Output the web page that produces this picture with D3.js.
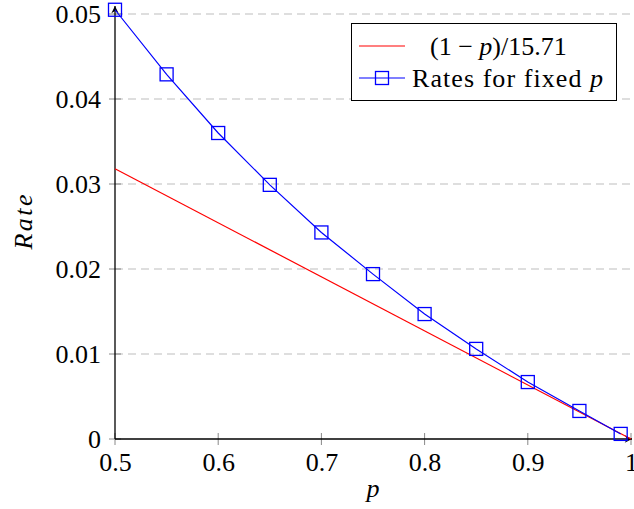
<!DOCTYPE html>
<html>
<head>
  <meta charset="utf-8">
  <title>Rate vs p</title>
  <script src="https://cdn.jsdelivr.net/npm/d3@7"></script>
  <style>
    body { margin: 0; background: #fff; }
    text { font-family: "Liberation Serif", "DejaVu Serif", serif; fill: #000; }
  </style>
</head>
<body>
  <script>
    // data
    const pValues = [0.5, 0.55, 0.6, 0.65, 0.7, 0.75, 0.8, 0.85, 0.9, 0.95, 0.99];
    const rates = [0.0505, 0.0429, 0.0360, 0.0299, 0.0243, 0.0194, 0.0147, 0.0106, 0.0067, 0.0033, 0.0006];
    // reference line (1-p)/15.71, end points
    const refP = [0.5, 1];
    const refRate = [0.0318, 0];
    const xTicks = [0.5, 0.6, 0.7, 0.8, 0.9, 1];
    const yTicks = [0, 0.01, 0.02, 0.03, 0.04, 0.05];

    const w = 634, h = 509;

    const svg = d3.select("body").append("svg")
      .attr("width", w)
      .attr("height", h);

    const x = d3.scaleLinear().domain([0.5, 1]).range([115, 631]);
    const y = d3.scaleLinear().domain([0, 0.05]).range([439, 14]);

    // grid lines
    svg.append("g").selectAll("line")
      .data(yTicks.filter(d => d > 0))
      .enter().append("line")
      .attr("x1", x(0.5)).attr("x2", x(1))
      .attr("y1", d => y(d)).attr("y2", d => y(d))
      .attr("stroke", "#bdbdbd")
      .attr("stroke-width", 1)
      .attr("stroke-dasharray", "8,5");

    // axes
    const xAxis = svg.append("g")
      .attr("transform", "translate(0," + y(0) + ")")
      .call(d3.axisBottom(x).tickValues(xTicks).tickSize(0).tickPadding(14)
        .tickFormat(d => d === 1 ? "1" : d3.format(".1f")(d)));
    xAxis.select(".domain").remove();
    xAxis.selectAll("text").attr("font-size", 26).attr("font-family", "Liberation Serif");

    const yAxis = svg.append("g")
      .attr("transform", "translate(" + x(0.5) + ",0)")
      .call(d3.axisLeft(y).tickValues(yTicks).tickSize(0).tickPadding(14)
        .tickFormat(d => d === 0 ? "0" : d3.format(".2f")(d)));
    yAxis.select(".domain").remove();
    yAxis.selectAll("text").attr("font-size", 26).attr("font-family", "Liberation Serif").attr("dy", "0.34em");

    // tick marks crossing the axis lines
    svg.append("g").selectAll("line")
      .data(xTicks)
      .enter().append("line")
      .attr("x1", d => x(d)).attr("x2", d => x(d))
      .attr("y1", y(0) - 6).attr("y2", y(0) + 6)
      .attr("stroke", "#888").attr("stroke-width", 1);
    svg.append("g").selectAll("line")
      .data(yTicks)
      .enter().append("line")
      .attr("x1", x(0.5) - 6).attr("x2", x(0.5) + 6)
      .attr("y1", d => y(d)).attr("y2", d => y(d))
      .attr("stroke", "#888").attr("stroke-width", 1);

    // arrow heads
    const defs = svg.append("defs");
    defs.append("marker")
      .attr("id", "arrow")
      .attr("viewBox", "0 0 10 10")
      .attr("refX", 9).attr("refY", 5)
      .attr("markerWidth", 7).attr("markerHeight", 7)
      .attr("orient", "auto")
      .append("path")
      .attr("d", "M1,1 L9,5 L1,9 L3.5,5 Z")
      .attr("fill", "#000");

    svg.append("line")
      .attr("x1", x(0.5)).attr("x2", x(1) + 1)
      .attr("y1", y(0)).attr("y2", y(0))
      .attr("stroke", "#000").attr("stroke-width", 1.3)
      .attr("marker-end", "url(#arrow)");
    svg.append("line")
      .attr("x1", x(0.5)).attr("x2", x(0.5))
      .attr("y1", y(0)).attr("y2", 6)
      .attr("stroke", "#000").attr("stroke-width", 1.3)
      .attr("marker-end", "url(#arrow)");

    // red reference line
    const refLine = d3.line().x(d => x(d[0])).y(d => y(d[1]));
    svg.append("path")
      .datum(refP.map((p, i) => [p, refRate[i]]))
      .attr("d", refLine)
      .attr("fill", "none")
      .attr("stroke", "#ff0000")
      .attr("stroke-width", 1.2);

    // blue rates line
    const pts = pValues.map((p, i) => [p, rates[i]]);
    svg.append("path")
      .datum(pts)
      .attr("d", refLine)
      .attr("fill", "none")
      .attr("stroke", "#0000ff")
      .attr("stroke-width", 1.2);

    svg.append("g").selectAll("rect")
      .data(pts)
      .enter().append("rect")
      .attr("x", d => x(d[0]) - 6.5)
      .attr("y", d => y(d[1]) - 6.5)
      .attr("width", 13).attr("height", 13)
      .attr("fill", "none")
      .attr("stroke", "#0000ff")
      .attr("stroke-width", 1.3);

    // axis labels
    svg.append("text")
      .attr("x", 373).attr("y", 497)
      .attr("text-anchor", "middle")
      .attr("font-size", 26).attr("font-style", "italic")
      .text("p");
    svg.append("text")
      .attr("transform", "translate(32,222) rotate(-90)")
      .attr("text-anchor", "middle")
      .attr("font-size", 26).attr("font-style", "italic")
      .attr("textLength", 55).attr("lengthAdjust", "spacing")
      .text("Rate");

    // legend
    const lg = svg.append("g");
    lg.append("rect")
      .attr("x", 351.5).attr("y", 23.5)
      .attr("width", 265).attr("height", 77)
      .attr("fill", "#fff").attr("stroke", "#000").attr("stroke-width", 1);
    lg.append("line")
      .attr("x1", 359).attr("x2", 405).attr("y1", 46).attr("y2", 46)
      .attr("stroke", "#ff0000").attr("stroke-width", 1.2);
    lg.append("line")
      .attr("x1", 359).attr("x2", 405).attr("y1", 78).attr("y2", 78)
      .attr("stroke", "#0000ff").attr("stroke-width", 1.2);
    lg.append("rect")
      .attr("x", 375.5).attr("y", 71.5).attr("width", 13).attr("height", 13)
      .attr("fill", "none").attr("stroke", "#0000ff").attr("stroke-width", 1.3);
    const t1 = lg.append("text").attr("x", 430).attr("y", 55).attr("font-size", 26);
    t1.append("tspan").text("(1 \u2212 ");
    t1.append("tspan").attr("font-style", "italic").text("p");
    t1.append("tspan").text(")/15.71");
    const t2 = lg.append("text").attr("x", 412).attr("y", 87).attr("font-size", 26)
      .attr("textLength", 191).attr("lengthAdjust", "spacing");
    t2.append("tspan").text("Rates for fixed ");
    t2.append("tspan").attr("font-style", "italic").text("p");
  </script>
</body>
</html>
